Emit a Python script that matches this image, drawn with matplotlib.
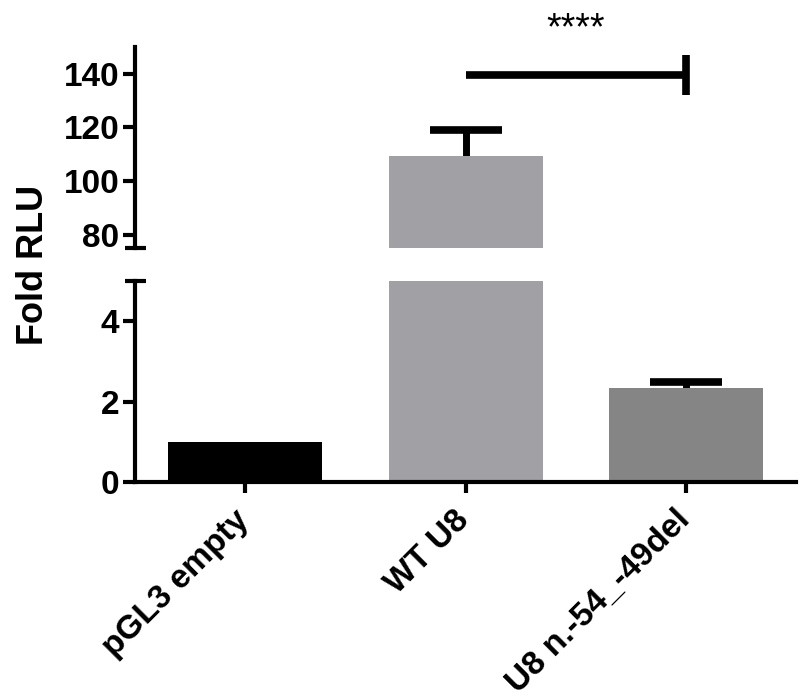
import matplotlib
matplotlib.use("Agg")
import matplotlib.pyplot as plt
from matplotlib.transforms import blended_transform_factory, ScaledTranslation

plt.rcParams['font.family'] = ['Liberation Sans', 'DejaVu Sans']

# data
groups = ['pGL3 empty', 'WT U8', 'U8 n.-54_-49del']
fold_rlu = [1.0, 109.2, 2.35]
sem_up = [0.0, 9.7, 0.15]
colors = ['#000000', '#a1a0a4', '#858585']
sig_pair = (1, 2)
sig_y = 139.5
sig_text = '****'

x = list(range(len(groups)))
lw = 3

fig = plt.figure(figsize=(8, 7), dpi=100)
ax_top = fig.add_axes([0.169, 0.6457, 0.826, 0.2872])
ax_bot = fig.add_axes([0.169, 0.3114, 0.826, 0.2872])

for ax in (ax_top, ax_bot):
    ax.bar(x, fold_rlu, width=0.7, color=colors, zorder=2)
    # upper error bars only: stem + cap
    for xi, v, e in zip(x, fold_rlu, sem_up):
        if e > 0:
            ax.vlines(xi, v, v + e, color='black', lw=5, zorder=1)
            ax.plot([xi], [v + e], marker='_', markersize=52, mew=5.5,
                    color='black', zorder=1)
    ax.set_xlim(-0.5, 2.5)
    ax.spines['top'].set_visible(False)
    ax.spines['right'].set_visible(False)
    ax.spines['left'].set_linewidth(lw)
    ax.spines['bottom'].set_linewidth(lw)
    ax.tick_params(axis='y', width=lw, length=8.5, labelsize=24, pad=3)

ax_top.set_ylim(75, 150)
ax_top.set_yticks([80, 100, 120, 140])
ax_top.spines['bottom'].set_visible(False)
ax_top.set_xticks([])

ax_bot.set_ylim(0, 5)
ax_bot.set_yticks([0, 2, 4])
ax_bot.set_xticks(x)
ax_bot.set_xticklabels(groups, rotation=45, ha='right', va='top',
                       rotation_mode='anchor', fontsize=24, fontweight='bold')
ax_bot.tick_params(axis='x', width=lw, length=8, pad=8)
shift = ScaledTranslation(-12 / 100, 0, fig.dpi_scale_trans)
for lab in ax_bot.get_xticklabels():
    lab.set_transform(lab.get_transform() + shift)

for ax in (ax_top, ax_bot):
    for lab in ax.get_yticklabels():
        lab.set_fontweight('bold')

# break caps on the y axis
tr = blended_transform_factory(ax_top.transAxes, ax_top.transData)
ax_top.plot([-0.016, 0.016], [75, 75], color='black', lw=lw, transform=tr,
            clip_on=False, solid_capstyle='butt')
tr = blended_transform_factory(ax_bot.transAxes, ax_bot.transData)
ax_bot.plot([-0.016, 0.016], [5, 5], color='black', lw=lw, transform=tr,
            clip_on=False, solid_capstyle='butt')

# significance bar
a, b = sig_pair
ax_top.plot([a, b], [sig_y, sig_y], color='black', lw=5.5, clip_on=False,
            solid_capstyle='butt')
ax_top.plot([b, b], [sig_y - 7.5, sig_y + 7.5], color='black', lw=5.5,
            clip_on=False, solid_capstyle='butt')
ax_top.text((a + b) / 2, sig_y + 17, sig_text, ha='center', va='center',
            fontsize=27, clip_on=False)

fig.text(0.042, 0.622, 'Fold RLU', rotation=90, ha='center', va='center',
         fontsize=26, fontweight='bold')

fig.savefig('out.png', dpi=100)
